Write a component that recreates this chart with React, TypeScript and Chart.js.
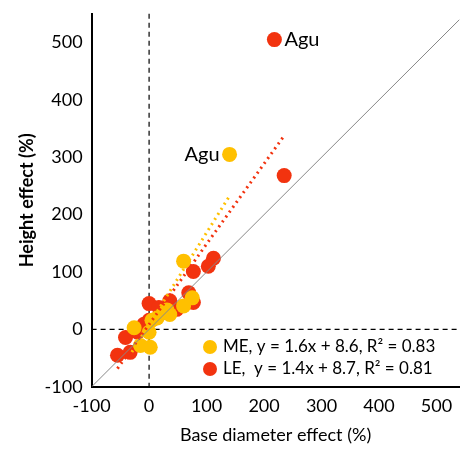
import { useEffect, useRef } from "react";
import { Chart, registerables } from "chart.js";

Chart.register(...registerables);

// ME (yellow) points: [base diameter effect, height effect]
const meX = [140, 60, 60, 36, 5, -26, 0, 2, -15, 14, 31, 75];
const meY = [305, 119, 41, 26, 16, 3, -5, -31, -28, 20, 34, 55];
// LE (red) points
const leX = [218, 235, 112, 103, 77, 69, 77, 0, 17, 36, 48, -41, -33, -55, -9, 0, -20, 28];
const leY = [505, 268, 124, 110, 101, 64, 47, 45, 38, 50, 35, -14, -40, -45, 9, 16, -5, 30];
// trend line ends
const meFitX = [-30, 140];
const leFitX = [-55, 235];
const meSlope = 1.6, meIcpt = 8.6;
const leSlope = 1.4, leIcpt = 8.7;
const oneToOne = [-100, 540];
const tickVals = [-100, 0, 100, 200, 300, 400, 500];

const FONT = "Lato, 'Open Sans', sans-serif";

export default function App() {
  const ref = useRef<HTMLCanvasElement | null>(null);
  const chart = useRef<Chart | null>(null);

  useEffect(() => {
    document.body.style.margin = "0";
    if (!ref.current) return;
    const ctx = ref.current.getContext("2d");
    if (!ctx) return;

    const overlay = {
      id: "overlay",
      beforeDatasetsDraw(c: Chart) {
        const { ctx, scales, chartArea } = c;
        const x = scales.x, y = scales.y;
        ctx.save();
        ctx.strokeStyle = "#000";
        ctx.lineWidth = 1.2;
        ctx.setLineDash([5, 4]);
        ctx.beginPath();
        ctx.moveTo(x.getPixelForValue(0), chartArea.top);
        ctx.lineTo(x.getPixelForValue(0), chartArea.bottom);
        ctx.moveTo(chartArea.left, y.getPixelForValue(0));
        ctx.lineTo(chartArea.right, y.getPixelForValue(0));
        ctx.stroke();
        ctx.restore();
      },
      afterDatasetsDraw(c: Chart) {
        const { ctx, scales } = c;
        const x = scales.x, y = scales.y;
        ctx.save();
        ctx.font = `20px ${FONT}`;
        ctx.fillStyle = "#000";
        ctx.textBaseline = "middle";
        ctx.textAlign = "left";
        ctx.fillText("Agu", x.getPixelForValue(leX[0]) + 10, y.getPixelForValue(leY[0]));
        ctx.textAlign = "right";
        ctx.fillText("Agu", x.getPixelForValue(meX[0]) - 10, y.getPixelForValue(meY[0]));
        // legend
        const lx = 210, items = [
          { c: "#FFC000", t: "ME, y = 1.6x + 8.6, R² = 0.83", py: 347 },
          { c: "#F2330F", t: "LE,  y = 1.4x + 8.7, R² = 0.81", py: 369 },
        ];
        ctx.font = `17px ${FONT}`;
        ctx.textAlign = "left";
        for (const it of items) {
          ctx.fillStyle = it.c;
          ctx.beginPath();
          ctx.arc(lx, it.py, 7, 0, Math.PI * 2);
          ctx.fill();
          ctx.fillStyle = "#000";
          ctx.fillText(it.t, lx + 13, it.py);
        }
        ctx.restore();
      },
    };

    const pts = (xs: number[], ys: number[]) => xs.map((v, i) => ({ x: v, y: ys[i] }));
    const fit = (xs: number[], m: number, b: number) => xs.map((v) => ({ x: v, y: m * v + b }));

    chart.current = new Chart(ctx, {
      type: "scatter",
      data: {
        datasets: [
          { label: "1:1", data: oneToOne.map((v) => ({ x: v, y: v })), showLine: true, borderColor: "#888", borderWidth: 1, pointRadius: 0 },
          { label: "MEfit", data: fit(meFitX, meSlope, meIcpt), showLine: true, borderColor: "#FFC000", borderWidth: 3, borderDash: [2, 4], pointRadius: 0 },
          { label: "LEfit", data: fit(leFitX, leSlope, leIcpt), showLine: true, borderColor: "#F2330F", borderWidth: 3, borderDash: [2, 4], pointRadius: 0 },
          { label: "ME", data: pts(meX, meY), backgroundColor: "#FFC000", borderWidth: 0, pointRadius: 7.5 },
          { label: "LE", data: pts(leX, leY), backgroundColor: "#F2330F", borderWidth: 0, pointRadius: 7.5 },
        ],
      },
      options: {
        animation: false,
        responsive: false,
        layout: { padding: { top: 0, right: 2, left: 12, bottom: 10 } },
        plugins: { legend: { display: false }, tooltip: { enabled: false } },
        scales: {
          x: {
            min: -100, max: 540,
            afterBuildTicks: (s: any) => { s.ticks = tickVals.map((v) => ({ value: v })); },
            grid: { display: false, drawTicks: true, tickLength: 6, tickColor: "#000" } as any,
            border: { color: "#000", width: 2 },
            ticks: { color: "#000", font: { family: FONT, size: 18 } },
            title: { display: true, text: "Base diameter effect (%)", color: "#000", font: { family: FONT, size: 18 } },
          },
          y: {
            min: -100, max: 550,
            afterBuildTicks: (s: any) => { s.ticks = tickVals.map((v) => ({ value: v })); },
            grid: { display: false, drawTicks: true, tickLength: 6, tickColor: "#000" } as any,
            border: { color: "#000", width: 2 },
            ticks: { color: "#000", font: { family: FONT, size: 18 } },
            title: { display: true, text: "Height effect (%)", color: "#000", font: { family: FONT, size: 18, weight: "bold" } },
          },
        },
      },
      plugins: [overlay],
    });

    return () => { chart.current?.destroy(); };
  }, []);

  return <canvas ref={ref} width={467} height={460} style={{ display: "block" }} />;
}
